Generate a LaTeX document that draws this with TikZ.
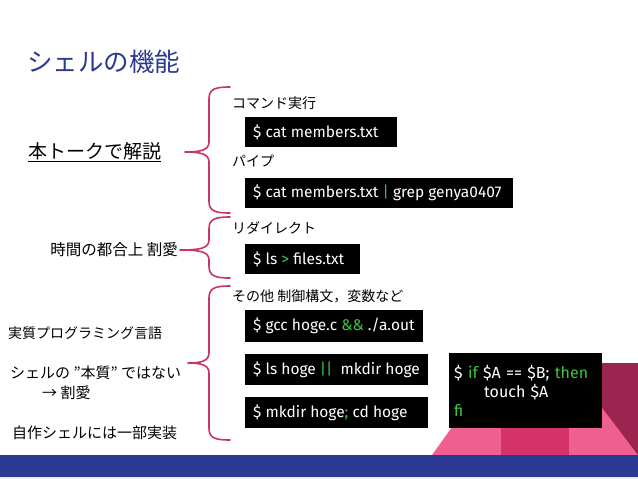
\documentclass[tikz,border=0pt]{standalone}
\usepackage{fontspec}
\setmainfont{Noto Sans CJK JP}
\newfontfamily\codefont{Fira Sans}
\definecolor{titleblue}{HTML}{2B3990}
\definecolor{barblue}{HTML}{283A92}
\definecolor{bracecol}{HTML}{C8336E}
\definecolor{codegreen}{HTML}{3CC83C}
\definecolor{pinklight}{HTML}{EF6090}
\definecolor{pinkdark}{HTML}{D4336A}
\definecolor{maroon}{HTML}{9C2550}
\newcommand\gr[1]{\textcolor{codegreen}{#1}}
\newcommand\mybrace[6]{% right x, vertical x, top y, tip y, bottom y, tip x
  \draw[bracestyle] (#1,#3) .. controls (#2+6,#3) and (#2,#3+2) .. (#2,#3+12)
    -- (#2,#4-10) .. controls (#2,#4-2) and (#2-8,#4) .. (#6,#4)
    .. controls (#2-8,#4) and (#2,#4+2) .. (#2,#4+10)
    -- (#2,#5-12) .. controls (#2,#5-2) and (#2+6,#5) .. (#1,#5);}
\newcommand\cbox[6]{% name, x, y, width, height, text
  \node[codebox, minimum width=#4pt, minimum height=#5pt] (#1) at (#2,#3)
    {\makebox[\dimexpr #4pt-16pt\relax][l]{#6}};}
\tikzset{
  bracestyle/.style={draw=bracecol, line width=1.6pt, line cap=round, line join=round},
  jlabel/.style={inner sep=0pt, font=\fontsize{14pt}{16pt}\selectfont},
  codebox/.style={fill=black, text=white, anchor=north west, inner xsep=8pt, inner ysep=0pt,
    font=\codefont\fontsize{15.5pt}{19pt}\selectfont, align=left},
}
\begin{document}
\begin{tikzpicture}[x=1pt,y=-1pt]
\useasboundingbox (0,0) rectangle (638,479);
\fill[white] (0,0) rectangle (638,479);
% decoration bottom right
\fill[pinklight] (432,455) -- (498,363) -- (638,363) -- (638,455) -- cycle;
\fill[pinkdark] (501,363) rectangle (569,455);
\fill[maroon] (598,363) -- (638,363) -- (638,455) -- (600,405) -- cycle;
\fill[barblue] (0,455) rectangle (638,477);
\fill[black!8] (0,477) rectangle (638,479);
% title
\node[anchor=west, inner sep=0pt, text=titleblue, font=\fontsize{25.5pt}{28pt}\selectfont] (title) at (27,62) {シェルの機能};
% braces
\mybrace{230}{209}{87}{152}{213}{185}
\mybrace{230}{209}{217}{250}{278}{180}
\mybrace{230}{209}{286}{363}{440}{188}
% left labels
\node[jlabel, anchor=west, font=\fontsize{19pt}{22pt}\selectfont] (talk) at (28,152) {\underline{本トークで解説}};
\node[jlabel, anchor=east, font=\fontsize{15.5pt}{16pt}\selectfont] (time) at (178,250) {時間の都合上 割愛};
\node[jlabel, anchor=west] (prog) at (8,333) {実質プログラミング言語};
\node[jlabel, anchor=west, font=\fontsize{15pt}{16pt}\selectfont] (ess) at (10,373) {シェルの "本質" ではない};
\node[jlabel, anchor=west, font=\fontsize{15pt}{16pt}\selectfont] (omit) at (42,393) {→ 割愛};
\node[jlabel, anchor=west, font=\fontsize{15pt}{16pt}\selectfont] (impl) at (12,433) {自作シェルには一部実装};
% right labels
\node[jlabel, anchor=west] (cmd) at (232,103) {コマンド実行};
\node[jlabel, anchor=west] (pipe) at (232,161) {パイプ};
\node[jlabel, anchor=west] (redir) at (232,228) {リダイレクト};
\node[jlabel, anchor=west] (other) at (232,296) {その他 制御構文，変数など};
% code boxes
\cbox{c1}{245}{117}{152}{30}{\$ cat members.txt}
\cbox{c2}{245}{178}{268}{30}{\$ cat members.txt \gr{\textbar} grep genya0407}
\cbox{c3}{245}{244}{115}{30}{\$ ls \gr{>} files.txt}
\cbox{c4}{245}{310}{178}{32}{\$ gcc hoge.c \gr{\&\&} ./a.out}
\cbox{c5}{245}{354}{183}{31}{\$ ls hoge \gr{\textbar\textbar}\ \ mkdir hoge}
\cbox{c6}{245}{397}{183}{31}{\$ mkdir hoge\gr{;} cd hoge}
\node[codebox, minimum width=151pt, minimum height=75pt, text width=143pt, inner xsep=5pt,
  font=\codefont\fontsize{16pt}{19pt}\selectfont] (c7) at (449,353)
  {\$ \gr{if} \$A == \$B; \gr{then}\\\hspace*{30pt}touch \$A\\\gr{fi}};
\end{tikzpicture}
\end{document}
